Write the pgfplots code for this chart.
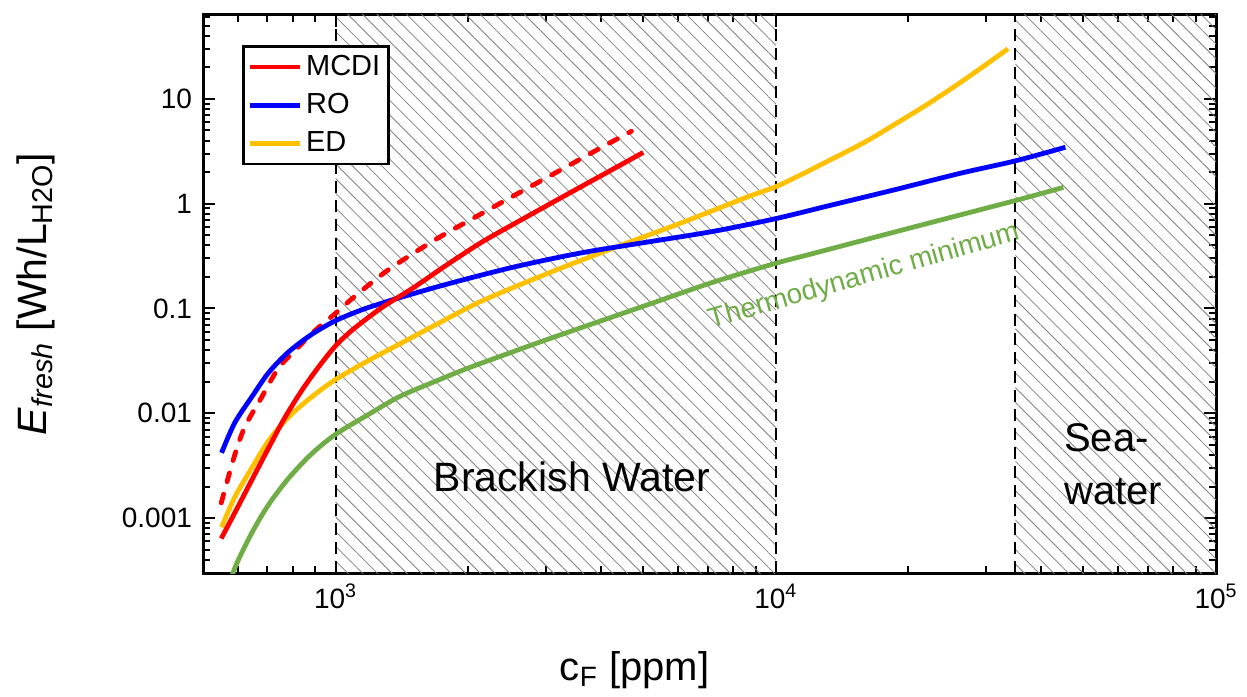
\documentclass[border=0pt]{standalone}
\usepackage{fontspec}
\setmainfont{Liberation Sans}
\usepackage{pgfplots}
\pgfplotsset{compat=1.18}
\usetikzlibrary{patterns.meta}

\definecolor{mcdired}{RGB}{255,0,0}
\definecolor{roblue}{RGB}{0,0,255}
\definecolor{edyellow}{RGB}{255,192,0}
\definecolor{thgreen}{RGB}{112,173,71}

\begin{document}
\begin{tikzpicture}
\path[use as bounding box] (-101.5pt,-61.5pt) rectangle (522pt,286.5pt);
\begin{axis}[
  at={(0pt,0pt)}, anchor=south west,
  width=506.5pt, height=279pt, scale only axis,
  xmode=log, ymode=log,
  xmin=500, xmax=100000, ymin=3e-4, ymax=63,
  axis line style={line width=1.5pt},
  tick style={black, line width=1pt},
  major tick length=6pt, minor tick length=3.5pt,
  xtick={1000,10000,100000},
  xticklabels={10\textsuperscript{3},10\textsuperscript{4},10\textsuperscript{5}},
  minor xtick={600,700,800,900,2000,3000,4000,5000,6000,7000,8000,9000,
    20000,30000,40000,50000,60000,70000,80000,90000},
  ytick={0.001,0.01,0.1,1,10},
  yticklabels={0.001,0.01,0.1,1,10},
  minor ytick={4e-4,5e-4,6e-4,7e-4,8e-4,9e-4,0.002,0.003,0.004,0.005,0.006,0.007,0.008,0.009,
    0.02,0.03,0.04,0.05,0.06,0.07,0.08,0.09,0.2,0.3,0.4,0.5,0.6,0.7,0.8,0.9,
    2,3,4,5,6,7,8,9,20,30,40,50,60},
  tick label style={font=\fontsize{14}{16}\selectfont},
  xticklabel style={yshift=-2pt},
  yticklabel style={xshift=-2pt},
  xlabel={c\textsubscript{F} [ppm]},
  ylabel={\textit{E}\textsubscript{\textit{fresh}} [Wh/L\textsubscript{H2O}]},
  xlabel style={at={(axis description cs:0.426,-0.174)}, anchor=center, font=\fontsize{20}{24}\selectfont},
  ylabel style={at={(axis description cs:-0.165,0.5)}, anchor=center, font=\fontsize{20.5}{24}\selectfont},
  legend style={at={(0.0385,0.946)}, anchor=north west, draw=black, line width=1.3pt,
    fill=white, font=\fontsize{14.5}{17}\selectfont, inner xsep=2pt, inner ysep=2.5pt,
    row sep=3.5pt, cells={anchor=west}},
  legend image code/.code={\draw[#1] (0pt,0pt) -- (25pt,0pt);},
  every axis plot/.append style={smooth, tension=0.5},
]
% hatched regions
\addplot[draw=none, sharp plot, pattern={Lines[angle=-45,distance=5.2pt,line width=0.4pt]}, pattern color=gray, forget plot]
  coordinates {(1000,1e-4) (1000,100) (10000,100) (10000,1e-4)} -- cycle;
\addplot[draw=none, sharp plot, pattern={Lines[angle=-45,distance=5.2pt,line width=0.4pt]}, pattern color=gray, forget plot]
  coordinates {(35000,1e-4) (35000,100) (100000,100) (100000,1e-4)} -- cycle;
% region borders
\addplot[black, sharp plot, line width=1pt, dash pattern=on 6pt off 3.5pt, forget plot] coordinates {(1000,3e-4) (1000,63)};
\addplot[black, sharp plot, line width=1pt, dash pattern=on 6pt off 3.5pt, forget plot] coordinates {(10000,3e-4) (10000,63)};
\addplot[black, sharp plot, line width=1pt, dash pattern=on 6pt off 3.5pt, forget plot] coordinates {(35000,3e-4) (35000,63)};

% thermodynamic minimum
\addplot[thgreen, line width=2.4pt, forget plot] coordinates {
  (560,1.5e-4) (588,3.2e-4) (645,7.2e-4) (705,1.35e-3) (782,2.4e-3) (882,4.1e-3)
  (1000,6.3e-3) (1200,0.0100) (1400,0.0145) (1700,0.0205) (2000,0.027) (2500,0.038)
  (3000,0.050) (4000,0.076) (5100,0.108) (7200,0.178) (10000,0.27) (12000,0.33)
  (20000,0.58) (35000,1.07) (45000,1.43)};
% MCDI, second case
\addplot[mcdired, line width=2.4pt, line cap=round, dash pattern=on 4.5pt off 6.5pt, forget plot] coordinates {
  (550,1.4e-3) (588,3.8e-3) (622,7.4e-3) (680,0.0143) (742,0.0270) (824,0.043)
  (900,0.062) (1000,0.090) (1100,0.128) (1320,0.235) (1680,0.45) (2060,0.73)
  (2550,1.2) (3250,2.1) (4000,3.4) (4700,4.9)};
% ED
\addplot[edyellow, line width=2.4pt, forget plot] coordinates {
  (551,8.2e-4) (590,1.58e-3) (645,3.0e-3) (705,5.5e-3) (782,9.2e-3) (882,0.0143)
  (1000,0.021) (1190,0.032) (1400,0.046) (1700,0.071) (2150,0.118) (3050,0.218)
  (4300,0.38) (6100,0.655) (8630,1.16) (10000,1.45) (11500,1.92) (13500,2.7) (16000,3.9)
  (19000,6.0) (22500,9.3) (27000,15.5) (33700,30)};
% RO
\addplot[roblue, line width=2.4pt, forget plot] coordinates {
  (551,0.0042) (590,0.0081) (645,0.0143) (705,0.0245) (782,0.0385) (882,0.0565)
  (1000,0.0765) (1146,0.097) (1271,0.112) (1400,0.127) (1803,0.172) (2545,0.249)
  (3612,0.339) (5125,0.431) (7230,0.545) (10000,0.72) (13120,0.95) (18530,1.35)
  (26270,1.95) (34900,2.55) (45500,3.45)};
% MCDI
\addplot[mcdired, line width=2.4pt, forget plot] coordinates {
  (550,6.4e-4) (590,1.12e-3) (645,2.3e-3) (705,4.7e-3) (766,9.0e-3) (838,0.0165)
  (914,0.0275) (1000,0.044) (1090,0.062) (1200,0.085) (1300,0.108) (1500,0.157)
  (1800,0.265) (2150,0.43) (2550,0.645) (3050,0.98) (3600,1.44) (4300,2.17) (5000,3.08)};

% legend entries
\addlegendimage{mcdired, line width=2.4pt}
\addlegendentry{MCDI}
\addlegendimage{roblue, line width=2.4pt}
\addlegendentry{RO}
\addlegendimage{edyellow, line width=2.4pt}
\addlegendentry{ED}

\node[font=\fontsize{20.5}{24}\selectfont] at (axis cs:3443,2.46e-3) {Brackish Water};
\node[font=\fontsize{20}{26.5}\selectfont, align=left, anchor=west] at (axis cs:43550,3.27e-3) {Sea-\\water};
\node[font=\fontsize{14}{16}\selectfont, text=thgreen, rotate=16, anchor=base] at (axis cs:16070,0.172) {Thermodynamic minimum};
\end{axis}
\end{tikzpicture}
\end{document}
